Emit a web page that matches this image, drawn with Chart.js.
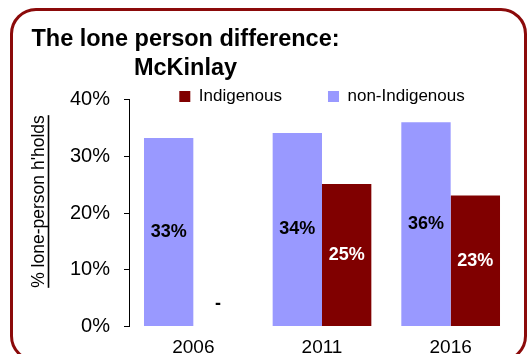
<!DOCTYPE html>
<html>
<head>
<meta charset="utf-8">
<script src="https://cdn.jsdelivr.net/npm/chart.js@4/dist/chart.umd.min.js"></script>
<style>
  html, body { margin: 0; padding: 0; background: #fff; overflow: hidden; }
  #wrap { position: relative; width: 531px; height: 354px; overflow: hidden; }
  #frame {
    position: absolute; left: 10px; top: 8px; width: 517px; height: 354px;
    box-sizing: border-box; border: 3px solid #8B0A0A; border-radius: 26px;
  }
  #chart { position: absolute; left: 0; top: 0; }
</style>
</head>
<body>
<div id="wrap">
  <div id="frame"></div>
  <canvas id="chart" width="531" height="370"></canvas>
</div>
<script>
// Share of households that are lone-person households, McKinlay
const categories = ['2006', '2011', '2016'];
const nonIndigenous = [33.2, 34.1, 36.0];
const indigenous = [0, 25.1, 23.1];
const titleLines = ['The lone person difference:', 'McKinlay'];
const yAxisTitle = "% lone-person h'holds";

const REGULAR = "'Liberation Sans', Arial, Helvetica, sans-serif";

// Two-line heading, centred over the left part of the panel
const headingPlugin = {
  id: 'heading',
  afterDraw(chart) {
    const ctx = chart.ctx;
    ctx.save();
    ctx.fillStyle = '#000';
    ctx.font = 'bold 23.5px ' + REGULAR;
    ctx.textAlign = 'center';
    ctx.textBaseline = 'alphabetic';
    ctx.fillText(titleLines[0], 185.5, 46);
    ctx.fillText(titleLines[1], 185.5, 74.5);
    ctx.restore();
  }
};

// Rotated, underlined value-axis caption
const axisCaptionPlugin = {
  id: 'axisCaption',
  afterDraw(chart) {
    const ctx = chart.ctx;
    ctx.save();
    ctx.font = '17.5px ' + REGULAR;
    const w = ctx.measureText(yAxisTitle).width;
    ctx.translate(43.5, 201.5);
    ctx.rotate(-Math.PI / 2);
    ctx.fillStyle = '#000';
    ctx.textAlign = 'center';
    ctx.textBaseline = 'alphabetic';
    ctx.fillText(yAxisTitle, 0, 0);
    ctx.fillRect(-w / 2, 4.2, w, 1.6);
    ctx.restore();
  }
};

// The legend sits in the strip just above the plot; let it draw past its
// own box so the lower half of the labels is not clipped.
const legendRoomPlugin = {
  id: 'legendRoom',
  afterLayout(chart) {
    const lg = chart.legend;
    if (lg) { lg.bottom += 16; lg.height += 16; }
  }
};

// Value labels in the middle of each bar; a zero value shows as a dash
const valueLabelPlugin = {
  id: 'valueLabels',
  afterDatasetsDraw(chart) {
    const ctx = chart.ctx;
    ctx.save();
    ctx.font = 'bold 18px ' + REGULAR;
    ctx.textAlign = 'center';
    ctx.textBaseline = 'middle';
    chart.data.datasets.forEach((ds, i) => {
      const meta = chart.getDatasetMeta(i);
      meta.data.forEach((bar, j) => {
        const v = ds.data[j];
        if (v === 0) {
          ctx.fillStyle = '#000';
          ctx.fillText('-', bar.x, bar.base - 22);
          return;
        }
        ctx.fillStyle = ds.labelColor;
        ctx.fillText(Math.round(v) + '%', bar.x, (bar.y + bar.base) / 2);
      });
    });
    ctx.restore();
  }
};

new Chart(document.getElementById('chart'), {
  type: 'bar',
  data: {
    labels: categories,
    datasets: [
      {
        label: 'non-Indigenous',
        data: nonIndigenous,
        backgroundColor: '#9999FF',
        borderWidth: 0,
        labelColor: '#000',
        categoryPercentage: 0.767,
        barPercentage: 1.0
      },
      {
        label: 'Indigenous',
        data: indigenous,
        backgroundColor: '#800000',
        borderWidth: 0,
        labelColor: '#fff',
        categoryPercentage: 0.767,
        barPercentage: 1.0
      }
    ]
  },
  options: {
    responsive: false,
    animation: false,
    devicePixelRatio: 1,
    layout: { padding: { top: 42, left: 69, right: 16, bottom: 3.5 } },
    plugins: {
      title: { display: false },
      tooltip: { enabled: false },
      legend: {
        position: 'top',
        fullSize: false,
        reverse: true,
        maxHeight: 57.5,
        labels: {
          boxWidth: 11,
          boxHeight: 11,
          padding: 46,
          color: '#000',
          font: { family: REGULAR, size: 17 }
        }
      }
    },
    scales: {
      x: {
        grid: { display: false, drawTicks: false },
        border: { display: false },
        ticks: { color: '#000', padding: 10, font: { family: REGULAR, size: 19 } },
        afterFit(scale) { scale.height = 40; }
      },
      y: {
        min: 0,
        max: 40,
        ticks: {
          stepSize: 10,
          color: '#000',
          padding: 14,
          font: { family: REGULAR, size: 20 },
          callback: v => v + '%'
        },
        grid: { drawOnChartArea: false, drawTicks: true, tickLength: 5, color: '#000', lineWidth: 1 },
        border: { display: true, color: '#000', width: 1 },
        afterFit(scale) { scale.width = 60; }
      }
    }
  },
  plugins: [headingPlugin, axisCaptionPlugin, legendRoomPlugin, valueLabelPlugin]
});
</script>
</body>
</html>
